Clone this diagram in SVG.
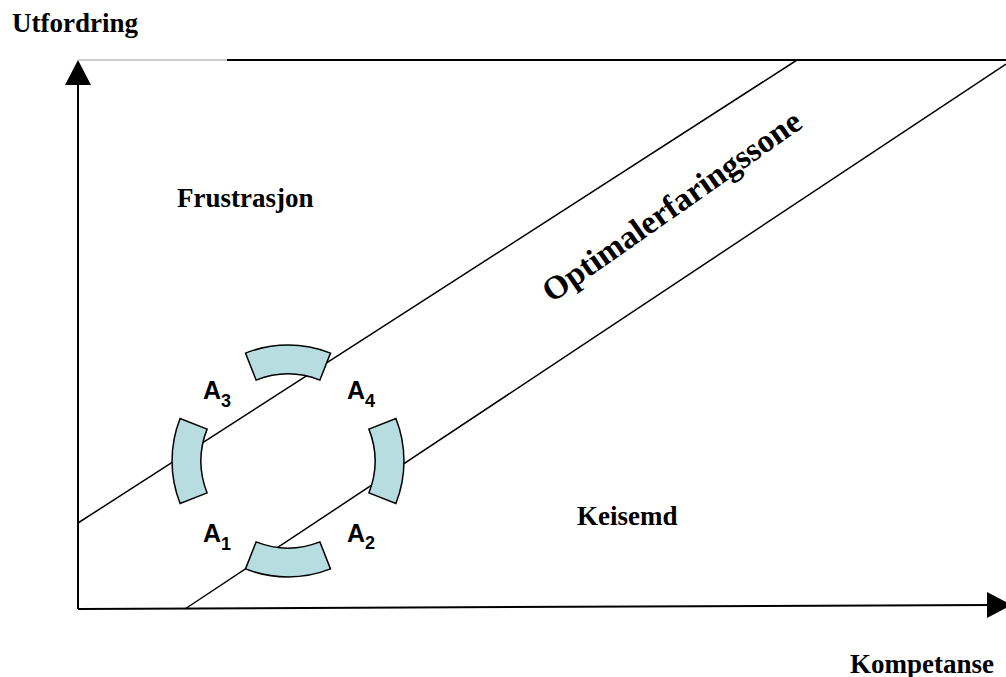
<svg xmlns="http://www.w3.org/2000/svg" width="1006" height="677" viewBox="0 0 1006 677">
  <style>
    .serif { font-family: "Liberation Serif", "Times New Roman", serif; font-weight: bold; font-size: 27px; fill: #000; }
    .sans { font-family: "Liberation Sans", Arial, sans-serif; font-weight: bold; font-size: 25px; fill: #000; }
    .sub { font-size: 18px; }
    .axis { stroke: #000; stroke-width: 2; fill: none; }
    .band { stroke: #000; stroke-width: 1.5; fill: none; }
    .seg { fill: #b7dde0; stroke: #000; stroke-width: 1.5; stroke-linejoin: miter; }
  </style>
  <rect width="1006" height="677" fill="#fff"/>

  <!-- axes, frame and zone boundaries -->
  <g id="connectors">
    <line x1="78" y1="609" x2="78" y2="80" class="axis"/>
    <polygon points="78,60 65,85 91,85" fill="#000"/>
    <line x1="78" y1="609" x2="990" y2="605" class="axis"/>
    <polygon points="1012,605 987,592 987,618" fill="#000"/>
    <line x1="78" y1="60" x2="227" y2="60" stroke="#9a9a9a" stroke-width="1"/>
    <line x1="227" y1="60" x2="1006" y2="60" stroke="#000" stroke-width="2"/>
    <line x1="78" y1="523" x2="797" y2="60" class="band"/>
    <line x1="185" y1="609" x2="1006" y2="64" class="band"/>
  </g>

  <!-- axis titles -->
  <g id="label-utfordring"><text class="serif" x="12" y="32">Utfordring</text></g>
  <g id="label-kompetanse"><text class="serif" x="850" y="673">Kompetanse</text></g>

  <!-- regions -->
  <g id="label-frustrasjon"><text class="serif" x="177" y="207">Frustrasjon</text></g>
  <g id="label-keisemd"><text class="serif" x="577" y="525">Keisemd</text></g>
  <g id="label-sone"><text class="serif" style="font-size:33px" text-anchor="middle" transform="translate(678,215) rotate(-35)">Optimalerfaringssone</text></g>

  <!-- ring of four arc segments around (288,461) -->
  <g id="seg-top"><path class="seg" d="M245.5,353.1 A116,116 0 0 1 330.5,353.1 L319.9,380.1 A87,87 0 0 0 256.1,380.1 Z"/></g>
  <g id="seg-bottom"><path class="seg" d="M245.5,568.9 A116,116 0 0 0 330.5,568.9 L319.9,541.9 A87,87 0 0 1 256.1,541.9 Z"/></g>
  <g id="seg-left"><path class="seg" d="M180.1,418.5 A116,116 0 0 0 180.1,503.5 L207.1,492.9 A87,87 0 0 1 207.1,429.1 Z"/></g>
  <g id="seg-right"><path class="seg" d="M395.9,418.5 A116,116 0 0 1 395.9,503.5 L368.9,492.9 A87,87 0 0 0 368.9,429.1 Z"/></g>

  <!-- quadrant labels -->
  <g id="label-a3"><text class="sans" x="203" y="399">A<tspan class="sub" dy="8">3</tspan></text></g>
  <g id="label-a4"><text class="sans" x="347" y="399">A<tspan class="sub" dy="8">4</tspan></text></g>
  <g id="label-a1"><text class="sans" x="203" y="542">A<tspan class="sub" dy="8">1</tspan></text></g>
  <g id="label-a2"><text class="sans" x="347" y="542">A<tspan class="sub" dy="7">2</tspan></text></g>
</svg>
